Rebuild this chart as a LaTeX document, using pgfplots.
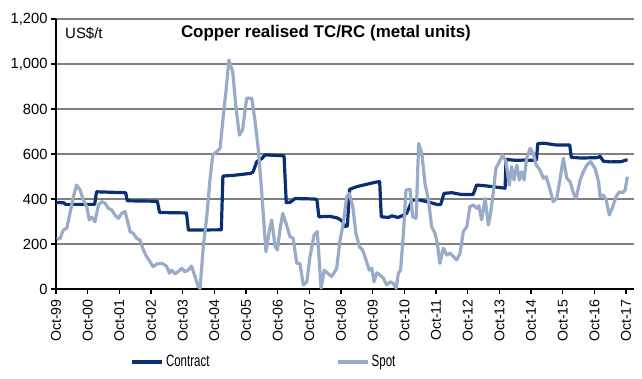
\documentclass[border=0pt]{standalone}
\usepackage{fontspec}
\setmainfont{Liberation Sans}
\newfontfamily\narrowfont[FakeStretch=0.7]{Liberation Sans}
\usepackage{pgfplots}
\pgfplotsset{compat=1.18}
\definecolor{contractc}{HTML}{0B2F73}
\definecolor{spotc}{HTML}{9AABC8}
\definecolor{gridc}{HTML}{808080}

\pgfplotstableread{
t v
0 385
0.25 383
0.3 376
1.22 376
1.28 432
1.5 431
2.2 428
2.25 392
3.2 390
3.27 340
4.12 338
4.18 262
5.22 263
5.27 502
5.6 505
6.15 514
6.22 520
6.34 566
6.5 580
6.6 596
7.2 592
7.27 384
7.4 386
7.55 402
8.18 400
8.24 395
8.3 321
8.65 323
8.9 315
9.05 300
9.12 278
9.2 280
9.27 443
9.5 455
9.8 465
10.1 475
10.22 477
10.27 321
10.5 318
10.6 325
10.8 318
11.0 330
11.07 336
11.25 395
11.5 395
11.8 385
12.05 375
12.15 376
12.25 425
12.5 428
12.8 420
13.17 420
13.28 462
13.6 458
14.18 448
14.21 576
14.5 572
14.8 573
15.17 572
15.21 646
15.4 648
15.8 640
16.22 640
16.27 585
16.6 582
17.1 584
17.18 590
17.28 568
17.5 565
17.85 566
18.0 573
18.05 573
}\contract

\pgfplotstableread{
t v
0.02 221
0.13 225
0.23 262
0.34 270
0.44 336
0.55 410
0.65 462
0.76 440
0.86 396
0.97 366
1.05 307
1.13 319
1.23 299
1.34 373
1.44 388
1.55 381
1.65 359
1.76 351
1.86 329
1.97 314
2.07 336
2.18 344
2.25 307
2.34 255
2.44 247
2.55 225
2.65 218
2.76 173
2.86 144
2.97 121
3.07 99
3.18 111
3.34 114
3.49 102
3.58 70
3.65 84
3.76 67
3.86 77
3.97 92
4.07 77
4.18 84
4.28 102
4.39 55
4.49 10
4.55 3
4.65 188
4.76 321
4.86 484
4.95 596
5.07 610
5.18 625
5.28 766
5.37 884
5.46 1018
5.58 966
5.68 810
5.79 684
5.89 707
6.02 848
6.18 848
6.28 751
6.39 618
6.49 440
6.63 166
6.74 262
6.81 307
6.92 188
6.99 173
7.07 262
7.16 336
7.28 284
7.39 232
7.49 225
7.6 114
7.7 114
7.81 18
7.92 32
8.02 144
8.15 240
8.25 255
8.37 4
8.47 84
8.58 70
8.7 55
8.86 90
8.97 218
9.07 292
9.18 410
9.26 425
9.37 366
9.47 247
9.58 188
9.68 173
9.79 129
9.89 84
9.97 92
10.04 32
10.13 72
10.23 62
10.34 47
10.44 18
10.55 32
10.65 25
10.74 3
10.81 70
10.88 84
10.97 247
11.05 440
11.18 443
11.26 321
11.37 314
11.45 647
11.55 603
11.65 470
11.76 396
11.86 277
11.97 247
12.04 203
12.12 114
12.23 181
12.34 151
12.44 159
12.55 144
12.65 129
12.76 159
12.86 255
12.97 277
13.07 366
13.18 373
13.28 359
13.35 370
13.44 307
13.55 403
13.65 284
13.72 336
13.79 410
13.89 536
14.0 566
14.1 596
14.21 566
14.31 462
14.39 544
14.46 484
14.55 551
14.63 484
14.7 521
14.78 484
14.86 581
14.97 625
15.07 603
15.16 551
15.28 529
15.39 492
15.48 499
15.6 440
15.7 388
15.81 403
15.91 484
16.02 581
16.13 492
16.23 477
16.34 425
16.42 403
16.55 484
16.65 521
16.76 551
16.88 566
17.02 536
17.13 477
17.18 410
17.28 418
17.37 396
17.47 329
17.58 366
17.68 410
17.79 432
17.89 428
17.97 440
18.04 499
}\spot

\begin{document}
\begin{tikzpicture}
\useasboundingbox (0,0) rectangle (642bp,379bp);
\begin{axis}[
  at={(56bp,90bp)}, anchor=south west,
  scale only axis, width=578bp, height=270bp,
  xmin=0, xmax=18.25, ymin=0, ymax=1200,
  axis x line*=bottom, axis y line*=left,
  axis line style={-, black, line width=2bp},
  xtick={0,...,18},
  xticklabels={Oct-99,Oct-00,Oct-01,Oct-02,Oct-03,Oct-04,Oct-05,Oct-06,Oct-07,Oct-08,Oct-09,Oct-10,Oct-11,Oct-12,Oct-13,Oct-14,Oct-15,Oct-16,Oct-17},
  ytick={0,200,...,1200},
  tick align=outside, major tick length=5bp,
  tick style={black, line width=1.5bp},
  ymajorgrids, grid style={gridc, line width=1.5bp},
  /pgf/number format/.cd, 1000 sep={,}, assume math mode=true,
  /pgfplots/.cd,
  xticklabel shift=2bp,
  x tick label style={rotate=90, anchor=east, font=\fontsize{14.2}{16}\selectfont},
  y tick label style={font=\fontsize{14.8}{16}\selectfont},
  legend columns=2,
  legend style={draw=none, fill=none, at={(rel axis cs:0.36,-0.27)}, anchor=center,
    font=\narrowfont\fontsize{16.5}{18}\selectfont,
    /tikz/every even column/.append style={column sep=125bp}},
  legend image code/.code={\draw[#1] (0bp,0bp) -- (30bp,0bp);},
  clip=false,
]
\addplot[contractc, line width=3.2bp, line join=round] table[x=t,y=v] {\contract};
\addlegendentry{Contract}
\addplot[spotc, line width=3.2bp, line join=round] table[x=t,y=v] {\spot};
\addlegendentry{Spot}
\node[font=\bfseries\fontsize{17}{20}\selectfont] at (rel axis cs:0.467,0.948) {Copper realised TC/RC (metal units)};
\node[anchor=west, inner sep=0pt, font=\fontsize{15}{17}\selectfont] at (rel axis cs:0.0156,0.948) {US\$/t};
\end{axis}
\end{tikzpicture}
\end{document}
